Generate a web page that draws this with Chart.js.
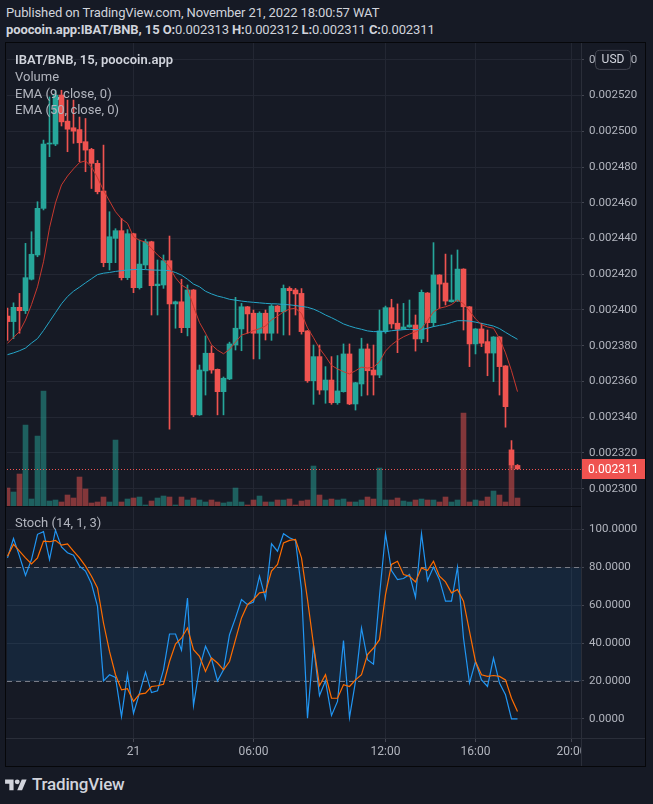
<!DOCTYPE html>
<html>
<head>
<meta charset="utf-8">
<title>IBAT/BNB 15</title>
<script src="https://cdn.jsdelivr.net/npm/chart.js@4.4.1/dist/chart.umd.min.js"></script>
<style>
  body { margin: 0; background: #161a25; width: 653px; height: 804px; overflow: hidden;
         font-family: Roboto, "Open Sans", sans-serif; color: #d1d4dc; position: relative; }
  .txt { position: absolute; white-space: nowrap; z-index: 5; }
  .hdr { font-size: 13px; line-height: 16px; color: #d1d4dc; letter-spacing: -0.1px; }
  .leg { font-size: 13px; line-height: 16px; color: #b2b5be; left: 15px; }
  canvas { position: absolute; left: 0; }
  .line { position: absolute; z-index: 6; }
</style>
</head>
<body>

<div class="txt hdr" style="left:6px; top:5px;">Published on TradingView.com, November 21, 2022 18:00:57 WAT</div>
<div class="txt hdr" style="left:6px; top:22px;"><b>poocoin.app:IBAT/BNB, 15</b> <b>O:</b>0.002313 <b>H:</b>0.002312 <b>L:</b>0.002311 <b>C:</b>0.002311</div>

<canvas id="main" width="653" height="463" style="top:43px;"></canvas>
<canvas id="stoch" width="653" height="260" style="top:507px;"></canvas>

<div class="txt leg" style="top:52px; font-weight:600; color:#d1d4dc;">IBAT/BNB, 15, poocoin.app</div>
<div class="txt leg" style="top:69px;">Volume</div>
<div class="txt leg" style="top:86px;">EMA (9, close, 0)</div>
<div class="txt leg" style="top:102px;">EMA (50, close, 0)</div>
<div class="txt leg" style="top:515px;">Stoch (14, 1, 3)</div>

<!-- frame and separators -->
<div class="line" style="left:5px; top:42px; width:641px; height:725px; border:1px solid #06070a; box-sizing:border-box;"></div>
<div class="line" style="left:6px; top:506px; width:575px; height:1px; background:#0b0d13;"></div>
<div class="line" style="left:581px; top:43px; width:1px; height:723px; background:#2a2e39;"></div>
<div class="line" style="left:6px; top:738px; width:639px; height:1px; background:#2a2e39;"></div>

<div class="txt" style="left:5px; top:777px;">
  <svg width="22" height="17" viewBox="0 0 36 28"><path d="M14 22H7V11H0V4h14v18zM28 22h-8l7.5-18h8L28 22z" fill="#d1d4dc"/><circle cx="20" cy="8" r="4" fill="#d1d4dc"/></svg>
</div>
<div class="txt" style="left:32px; top:774px; font-size:17px; font-weight:500; color:#d1d4dc; letter-spacing:-0.2px;">TradingView</div>

<script>
// 15 minute candles, IBAT/BNB
const opens = [
  0.0023966, 0.0023935, 0.0024015, 0.0023996, 0.0024172, 0.0024308, 0.0024569, 0.0024929, 0.0024929, 0.0025203,
  0.0025057, 0.0025020, 0.0025010, 0.0024942, 0.0024899, 0.0024821, 0.0024666, 0.0024265, 0.0024401, 0.0024444,
  0.0024181, 0.0024427, 0.0024125, 0.0024252, 0.0024382, 0.0024136, 0.0024140, 0.0024276, 0.0024034, 0.0024046,
  0.0023901, 0.0024112, 0.0023413, 0.0023659, 0.0023758, 0.0023668, 0.0023543, 0.0023614, 0.0023804, 0.0023894,
  0.0024018, 0.0023982, 0.0023870, 0.0023982, 0.0023870, 0.0024022, 0.0023990, 0.0024121, 0.0024112, 0.0024093,
  0.0023883, 0.0023604, 0.0023739, 0.0023552, 0.0023608, 0.0023481, 0.0023543, 0.0023754, 0.0023474, 0.0023586,
  0.0023782, 0.0023664, 0.0023636, 0.0023879, 0.0024013, 0.0023926, 0.0023892, 0.0023905, 0.0023916, 0.0023838,
  0.0024095, 0.0023929, 0.0024196, 0.0024151, 0.0024046, 0.0024050, 0.0024229, 0.0024018, 0.0023810, 0.0023894,
  0.0023823, 0.0023759, 0.0023849, 0.0023687, 0.0023217, 0.0023130
];
const highs = [
  0.0024011, 0.0024040, 0.0024093, 0.0024373, 0.0024438, 0.0024606, 0.0024951, 0.0025193, 0.0025230, 0.0025230,
  0.0025175, 0.0025175, 0.0025080, 0.0025072, 0.0024905, 0.0024837, 0.0024923, 0.0024550, 0.0024455, 0.0024513,
  0.0024450, 0.0024430, 0.0024392, 0.0024395, 0.0024385, 0.0024280, 0.0024308, 0.0024414, 0.0024050, 0.0024172,
  0.0024140, 0.0024115, 0.0023692, 0.0023855, 0.0023799, 0.0023670, 0.0023625, 0.0023820, 0.0024071, 0.0024037,
  0.0024020, 0.0024000, 0.0023990, 0.0024000, 0.0024030, 0.0024025, 0.0024140, 0.0024130, 0.0024121, 0.0024120,
  0.0023885, 0.0023804, 0.0023804, 0.0023683, 0.0023739, 0.0023745, 0.0023810, 0.0023810, 0.0023595, 0.0023842,
  0.0023810, 0.0023804, 0.0024000, 0.0024022, 0.0024060, 0.0024034, 0.0024037, 0.0024056, 0.0023972, 0.0024112,
  0.0024098, 0.0024377, 0.0024198, 0.0024313, 0.0024308, 0.0024336, 0.0024231, 0.0024020, 0.0023896, 0.0023926,
  0.0023888, 0.0023851, 0.0023851, 0.0023689, 0.0023269, 0.0023135
];
const lows = [
  0.0023830, 0.0023840, 0.0023870, 0.0023980, 0.0024168, 0.0024298, 0.0024560, 0.0024858, 0.0024920, 0.0025030,
  0.0024886, 0.0024933, 0.0024830, 0.0024774, 0.0024680, 0.0024650, 0.0024242, 0.0024224, 0.0024265, 0.0024168,
  0.0024170, 0.0024097, 0.0024117, 0.0024230, 0.0023972, 0.0023972, 0.0024121, 0.0023333, 0.0023898, 0.0023873,
  0.0023855, 0.0023403, 0.0023410, 0.0023524, 0.0023646, 0.0023413, 0.0023413, 0.0023610, 0.0023776, 0.0023772,
  0.0023870, 0.0023726, 0.0023726, 0.0023832, 0.0023830, 0.0023870, 0.0023860, 0.0023860, 0.0023972, 0.0023865,
  0.0023595, 0.0023472, 0.0023528, 0.0023478, 0.0023472, 0.0023472, 0.0023540, 0.0023470, 0.0023440, 0.0023519,
  0.0023524, 0.0023524, 0.0023621, 0.0023870, 0.0023898, 0.0023761, 0.0023890, 0.0023903, 0.0023770, 0.0023817,
  0.0023823, 0.0023907, 0.0024010, 0.0024028, 0.0024044, 0.0024048, 0.0023888, 0.0023683, 0.0023754, 0.0023795,
  0.0023632, 0.0023599, 0.0023524, 0.0023344, 0.0023114, 0.0023110
];
const closes = [
  0.0023935, 0.0024015, 0.0023996, 0.0024181, 0.0024312, 0.0024569, 0.0024929, 0.0024933, 0.0025203, 0.0025053,
  0.0025012, 0.0025001, 0.0024936, 0.0024895, 0.0024821, 0.0024662, 0.0024265, 0.0024410, 0.0024444, 0.0024181,
  0.0024427, 0.0024125, 0.0024257, 0.0024382, 0.0024136, 0.0024145, 0.0024276, 0.0024034, 0.0024046, 0.0023901,
  0.0024112, 0.0023413, 0.0023664, 0.0023758, 0.0023664, 0.0023543, 0.0023618, 0.0023810, 0.0023898, 0.0024018,
  0.0023978, 0.0023870, 0.0023982, 0.0023870, 0.0024022, 0.0023990, 0.0024121, 0.0024108, 0.0024090, 0.0023879,
  0.0023604, 0.0023739, 0.0023552, 0.0023608, 0.0023481, 0.0023547, 0.0023754, 0.0023474, 0.0023593, 0.0023782,
  0.0023660, 0.0023636, 0.0023883, 0.0024013, 0.0023922, 0.0023892, 0.0023905, 0.0023916, 0.0023838, 0.0024099,
  0.0023929, 0.0024196, 0.0024145, 0.0024050, 0.0024056, 0.0024229, 0.0024018, 0.0023810, 0.0023894, 0.0023814,
  0.0023759, 0.0023849, 0.0023683, 0.0023459, 0.0023133, 0.0023110
];
// volume, thousands
const volumes = [
  18, 14, 32, 81, 7, 70, 115, 5, 6, 4, 11, 8, 29, 17, 3, 4, 9, 4, 66, 4,
  7, 8, 9, 1, 5, 8, 10, 9, 1, 9, 6, 8, 6, 4, 6, 4, 3, 4, 18, 4,
  1, 6, 10, 4, 4, 6, 6, 7, 1, 5, 6, 40, 11, 6, 7, 6, 7, 4, 4, 6,
  9, 7, 38, 6, 6, 8, 5, 4, 6, 7, 6, 6, 4, 9, 4, 6, 93, 4, 6, 5,
  9, 15, 11, 4, 41, 8
];
const ema9 = [
  0.0023814, 0.0023847, 0.0023879, 0.0023944, 0.0024030, 0.0024130, 0.0024270, 0.0024460, 0.0024600, 0.0024700,
  0.0024750, 0.0024790, 0.0024825, 0.0024835, 0.0024800, 0.0024740, 0.0024670, 0.0024610, 0.0024550, 0.0024510,
  0.0024485, 0.0024410, 0.0024390, 0.0024380, 0.0024345, 0.0024308, 0.0024280, 0.0024240, 0.0024180, 0.0024140,
  0.0024120, 0.0024020, 0.0023930, 0.0023870, 0.0023805, 0.0023775, 0.0023755, 0.0023780, 0.0023820, 0.0023860,
  0.0023870, 0.0023885, 0.0023895, 0.0023910, 0.0023945, 0.0023965, 0.0023990, 0.0024005, 0.0024010, 0.0023980,
  0.0023900, 0.0023845, 0.0023785, 0.0023740, 0.0023690, 0.0023670, 0.0023655, 0.0023642, 0.0023660, 0.0023680,
  0.0023675, 0.0023680, 0.0023710, 0.0023770, 0.0023805, 0.0023830, 0.0023850, 0.0023865, 0.0023879, 0.0023895,
  0.0023940, 0.0023990, 0.0024010, 0.0024018, 0.0024030, 0.0024056, 0.0024035, 0.0023995, 0.0023950, 0.0023918,
  0.0023905, 0.0023898, 0.0023840, 0.0023760, 0.0023660, 0.0023543
];
const ema50 = [
  0.0023750, 0.0023760, 0.0023772, 0.0023787, 0.0023815, 0.0023840, 0.0023885, 0.0023935, 0.0023985, 0.0024035,
  0.0024075, 0.0024105, 0.0024128, 0.0024152, 0.0024175, 0.0024198, 0.0024206, 0.0024210, 0.0024216, 0.0024220,
  0.0024224, 0.0024226, 0.0024228, 0.0024226, 0.0024224, 0.0024223, 0.0024222, 0.0024220, 0.0024210, 0.0024195,
  0.0024172, 0.0024145, 0.0024130, 0.0024105, 0.0024090, 0.0024078, 0.0024070, 0.0024060, 0.0024055, 0.0024050,
  0.0024046, 0.0024043, 0.0024040, 0.0024037, 0.0024035, 0.0024034, 0.0024031, 0.0024029, 0.0024025, 0.0024020,
  0.0024015, 0.0024005, 0.0023990, 0.0023972, 0.0023957, 0.0023940, 0.0023922, 0.0023910, 0.0023900, 0.0023892,
  0.0023883, 0.0023879, 0.0023879, 0.0023879, 0.0023884, 0.0023887, 0.0023890, 0.0023892, 0.0023890, 0.0023890,
  0.0023898, 0.0023907, 0.0023914, 0.0023920, 0.0023930, 0.0023940, 0.0023940, 0.0023938, 0.0023932, 0.0023925,
  0.0023918, 0.0023910, 0.0023896, 0.0023875, 0.0023855, 0.0023836
];
// Stoch (14, 1, 3)
const stochK = [
  85.0, 95.2, 85.9, 75.7, 84.1, 97.4, 98.8, 84.1, 99.6, 90.7,
  87.7, 86.4, 80.6, 78.0, 71.3, 59.4, 20.1, 23.3, 21.9, 1.2,
  23.6, 3.0, 13.6, 24.7, 13.9, 14.8, 25.9, 44.8, 44.8, 36.2,
  63.8, 7.1, 26.8, 38.3, 31.7, 20.1, 25.9, 44.4, 53.3, 63.0,
  60.3, 61.7, 75.3, 63.5, 92.4, 88.5, 97.7, 95.6, 94.2, 68.3,
  0.4, 38.8, 12.3, 20.1, 1.8, 9.2, 41.3, 0.7, 19.8, 48.0,
  31.2, 28.9, 65.0, 97.7, 78.3, 73.5, 74.1, 76.2, 64.2, 97.7,
  73.0, 80.1, 73.5, 62.1, 62.1, 80.1, 42.7, 18.9, 30.3, 20.6,
  17.1, 32.1, 18.9, 12.7, 0.0, 0.0
];
const stochD = [
  85.9, 92.1, 88.5, 85.0, 81.8, 85.0, 93.8, 93.5, 94.2, 91.7,
  92.4, 88.5, 85.0, 80.6, 75.3, 69.1, 50.6, 35.6, 23.3, 15.3,
  15.9, 9.2, 13.1, 13.6, 17.1, 17.5, 18.3, 30.3, 39.5, 42.7,
  48.0, 36.5, 33.0, 25.0, 32.1, 29.5, 25.9, 30.3, 41.8, 53.3,
  60.3, 63.0, 66.5, 67.0, 78.0, 81.5, 92.9, 94.2, 94.7, 85.0,
  63.0, 39.2, 17.5, 23.3, 10.9, 10.9, 18.0, 17.1, 20.6, 23.3,
  33.9, 37.4, 41.8, 65.6, 81.5, 83.2, 76.2, 75.3, 72.3, 79.7,
  78.3, 83.2, 75.3, 72.3, 66.5, 68.3, 62.1, 46.2, 30.3, 23.3,
  22.4, 22.9, 22.4, 20.6, 10.9, 3.9
];
const stochBand = [20, 80];

const priceTicks = [0.00230, 0.00232, 0.00234, 0.00236, 0.00238, 0.00240, 0.00242, 0.00244, 0.00246, 0.00248, 0.00250, 0.00252, 0.00254];
const stochTicks = [0, 20, 40, 60, 80, 100];
const timeTickIdx = [21, 41, 63, 78, 94];
const timeTickLabels = ['21', '06:00', '12:00', '16:00', '20:00'];

// colours
const upColor = '#26a69a';
const downColor = '#ef5350';
const upVol = 'rgba(38,166,154,0.5)';
const downVol = 'rgba(239,83,80,0.5)';
const gridColor = '#232733';
const bgColor = '#161a25';
const axisText = '#b2b5be';

Chart.defaults.font.family = 'Roboto';
Chart.defaults.font.size = 11.5;

const bars = opens.map((_, i) => i);
const isUp = bars.map(i => closes[i] >= opens[i]);
const candleColors = isUp.map(u => u ? upColor : downColor);
const volColors = isUp.map(u => u ? upVol : downVol);

// x range: 6px per bar, first bar half cut by the pane edge
const xMin = -1 / 12;
const xMax = xMin + 574 / 6;

// no label padding, panes must line up exactly
function noPadding(s) {
    s.paddingTop = 0;
    s.paddingBottom = 0;
    s.paddingLeft = 0;
    s.paddingRight = 0;
}

function xScale(showLabels) {
    return {
        type: 'linear',
        min: xMin,
        max: xMax,
        offset: false,
        afterBuildTicks: function(s) { s.ticks = timeTickIdx.map(v => ({ value: v })); },
        afterFit: function(s) { s.height = showLabels ? 29 : 0; noPadding(s); },
        ticks: {
            display: showLabels,
            color: axisText,
            font: { size: 12 },
            padding: 3,
            maxRotation: 0,
            autoSkip: false,
            callback: function(v, i) { return timeTickLabels[i]; }
        },
        grid: { color: gridColor, drawTicks: showLabels, tickLength: 4, tickColor: '#434651', offset: false },
        border: { display: false }
    };
}

function yScale(min, max, ticks, digits) {
    return {
        position: 'right',
        min: min,
        max: max,
        afterBuildTicks: function(s) { s.ticks = ticks.map(v => ({ value: v })); },
        afterFit: function(s) { s.width = 65; noPadding(s); },
        ticks: {
            color: axisText,
            padding: 5,
            autoSkip: false,
            callback: function(v) { return v.toFixed(digits); }
        },
        grid: { color: gridColor, tickLength: 3, tickColor: '#434651' },
        border: { display: false }
    };
}

// last price line + label, USD box
const priceMarks = {
    id: 'priceMarks',
    afterDraw(chart) {
        const ctx = chart.ctx;
        const a = chart.chartArea;
        const ys = chart.scales.y;
        const last = closes[closes.length - 1];
        const y = Math.round(ys.getPixelForValue(last)) + 0.5;

        ctx.save();
        ctx.strokeStyle = downColor;
        ctx.lineWidth = 1;
        ctx.setLineDash([1, 2]);
        ctx.beginPath();
        ctx.moveTo(a.left, y);
        ctx.lineTo(a.right, y);
        ctx.stroke();
        ctx.setLineDash([]);

        ctx.fillStyle = downColor;
        ctx.fillRect(a.right, y - 10.5, 65, 20);
        ctx.fillStyle = '#ffffff';
        ctx.font = '12px Roboto';
        ctx.textBaseline = 'middle';
        ctx.textAlign = 'left';
        ctx.fillText(last.toFixed(6), a.right + 7, y);

        // USD badge over the top price label
        const yTop = ys.getPixelForValue(priceTicks[priceTicks.length - 1]);
        ctx.fillStyle = bgColor;
        ctx.strokeStyle = '#434651';
        ctx.beginPath();
        ctx.roundRect(595.5, yTop - 9.5, 35, 19, 4);
        ctx.fill();
        ctx.stroke();
        ctx.fillStyle = '#d1d4dc';
        ctx.textAlign = 'center';
        ctx.fillText('USD', 613, yTop);
        ctx.restore();
    }
};

new Chart(document.getElementById('main'), {
    type: 'bar',
    data: {
        datasets: [
            {
                type: 'line',
                label: 'EMA (9, close, 0)',
                data: bars.map(i => ({ x: i, y: ema9[i] })),
                borderColor: '#c8392f',
                borderWidth: 1,
                pointRadius: 0,
                order: 1
            },
            {
                type: 'line',
                label: 'EMA (50, close, 0)',
                data: bars.map(i => ({ x: i, y: ema50[i] })),
                borderColor: '#26a6c8',
                borderWidth: 1,
                pointRadius: 0,
                order: 2
            },
            {
                label: 'body',
                data: bars.map(i => ({ x: i, y: [opens[i], closes[i]] })),
                backgroundColor: candleColors,
                barThickness: 5,
                minBarLength: 1,
                grouped: false,
                order: 3
            },
            {
                label: 'wick',
                data: bars.map(i => ({ x: i, y: [lows[i], highs[i]] })),
                backgroundColor: candleColors,
                barThickness: 1,
                grouped: false,
                order: 4
            },
            {
                label: 'Volume',
                data: bars.map(i => ({ x: i, y: volumes[i] })),
                backgroundColor: volColors,
                barThickness: 5,
                grouped: false,
                yAxisID: 'yVol',
                order: 5
            }
        ]
    },
    options: {
        responsive: false,
        animation: false,
        layout: { padding: { left: 7, right: 7, top: 0, bottom: 0 } },
        plugins: { legend: { display: false }, tooltip: { enabled: false } },
        scales: {
            x: xScale(false),
            y: yScale(0.00229029, 0.00254945, priceTicks, 6),
            yVol: {
                display: false,
                min: 0,
                max: Math.max(...volumes) * 4.03
            }
        }
    },
    plugins: [priceMarks]
});

// overbought / oversold band
const stochBandPlugin = {
    id: 'stochBand',
    beforeDatasetsDraw(chart) {
        const ctx = chart.ctx;
        const a = chart.chartArea;
        const ys = chart.scales.y;
        const yHi = Math.round(ys.getPixelForValue(stochBand[1])) + 0.5;
        const yLo = Math.round(ys.getPixelForValue(stochBand[0])) + 0.5;
        ctx.save();
        ctx.fillStyle = 'rgba(33,150,243,0.1)';
        ctx.fillRect(a.left, yHi, a.right - a.left, yLo - yHi);
        ctx.strokeStyle = '#787b86';
        ctx.lineWidth = 1;
        ctx.setLineDash([5, 4]);
        [yHi, yLo].forEach(function(y) {
            ctx.beginPath();
            ctx.moveTo(a.left, y);
            ctx.lineTo(a.right, y);
            ctx.stroke();
        });
        ctx.restore();
    },
    afterDraw(chart) {
        // time labels are clipped by the price scale column
        const ctx = chart.ctx;
        const a = chart.chartArea;
        ctx.save();
        ctx.fillStyle = bgColor;
        ctx.fillRect(a.right + 1, a.bottom + 1, 70, 40);
        ctx.restore();
    }
};

new Chart(document.getElementById('stoch'), {
    type: 'line',
    data: {
        datasets: [
            {
                label: '%K',
                data: bars.map(i => ({ x: i, y: stochK[i] })),
                borderColor: '#2196f3',
                borderWidth: 1.2,
                pointRadius: 0,
                order: 2
            },
            {
                label: '%D',
                data: bars.map(i => ({ x: i, y: stochD[i] })),
                borderColor: '#ff6d00',
                borderWidth: 1.2,
                pointRadius: 0,
                order: 1
            }
        ]
    },
    options: {
        responsive: false,
        animation: false,
        layout: { padding: { left: 7, right: 7, top: 0, bottom: 0 } },
        plugins: { legend: { display: false }, tooltip: { enabled: false } },
        scales: {
            x: xScale(true),
            y: yScale(-10.08, 111.82, stochTicks, 4)
        }
    },
    plugins: [stochBandPlugin]
});
</script>
</body>
</html>
